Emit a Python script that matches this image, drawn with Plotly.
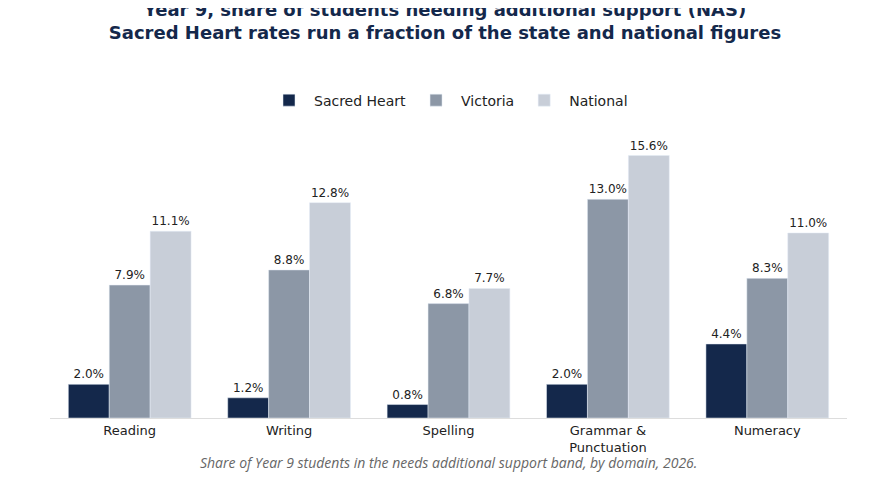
import plotly.graph_objects as go

domains = ["Reading", "Writing", "Spelling", "Grammar &<br>Punctuation", "Numeracy"]
sacred_heart = [2.0, 1.2, 0.8, 2.0, 4.4]
victoria = [7.9, 8.8, 6.8, 13.0, 8.3]
national = [11.1, 12.8, 7.7, 15.6, 11.0]

series = [("Sacred Heart", sacred_heart, "#14284b"),
          ("Victoria", victoria, "#8c97a6"),
          ("National", national, "#c8ced8")]

fig = go.Figure()
for name, vals, col in series:
    fig.add_trace(go.Bar(x=domains, y=vals, name=name, marker_color=col,
                         text=[f"{v:.1f}%" for v in vals], textposition="outside",
                         textfont=dict(size=12, color="#222222"), cliponaxis=False))

fig.update_layout(
    width=874, height=499, plot_bgcolor="white", paper_bgcolor="white",
    font=dict(family="DejaVu Sans", color="#222222"),
    title=dict(text="<b>Year 9, share of students needing additional support (NAS)<br>"
                    "Sacred Heart rates run a fraction of the state and national figures</b>",
               x=0.5, xanchor="center", yref="container", y=0.985, yanchor="top",
               font=dict(size=18, color="#14284b")),
    legend=dict(orientation="h", x=0.5, xanchor="center", y=1.11, yanchor="middle",
                font=dict(size=14), itemwidth=40),
    barmode="group", bargap=0.23, bargroupgap=0,
    margin=dict(l=42, r=35, t=124, b=89, autoexpand=False),
    showlegend=True,
)
fig.update_yaxes(range=[0, 17], visible=False)
fig.update_xaxes(showline=True, linecolor="#dddddd", tickfont=dict(size=13), automargin=False)
fig.add_annotation(text="<i>Share of Year 9 students in the needs additional support band, by domain, 2026.</i>",
                   xref="paper", yref="paper", x=0.5, y=-0.195, showarrow=False,
                   font=dict(size=14, color="#666666", family="Open Sans"))
fig.write_html("out.html")
